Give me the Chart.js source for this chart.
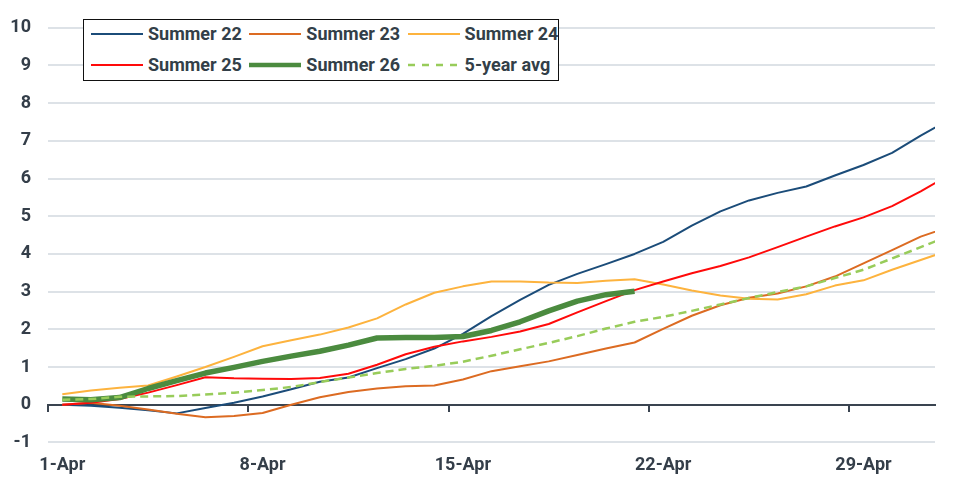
<!DOCTYPE html>
<html><head><meta charset="utf-8">
<script src="https://cdn.jsdelivr.net/npm/chart.js@4.4.1/dist/chart.umd.min.js"></script>
<style>
html,body{margin:0;padding:0;background:#fff;}
#wrap{position:relative;width:975px;height:483px;}
#legend{position:absolute;left:83px;top:19px;width:476px;height:62px;box-sizing:border-box;border:1.5px solid #111;background:#fff;font-family:Roboto, sans-serif;font-weight:700;font-size:18px;color:#333f48;}
.item{position:absolute;display:flex;align-items:center;height:24px;white-space:nowrap;}
.item svg{margin-right:5px;display:block}
</style></head><body>
<div id="wrap"><canvas id="c" width="975" height="483"></canvas><div id="legend"></div></div>
<script>
const CATEGORIES = ['1-Apr','2-Apr','3-Apr','4-Apr','5-Apr','6-Apr','7-Apr','8-Apr','9-Apr','10-Apr',
  '11-Apr','12-Apr','13-Apr','14-Apr','15-Apr','16-Apr','17-Apr','18-Apr','19-Apr','20-Apr',
  '21-Apr','22-Apr','23-Apr','24-Apr','25-Apr','26-Apr','27-Apr','28-Apr','29-Apr','30-Apr','1-May','2-May'];
const Y_TICKS = [-1,0,1,2,3,4,5,6,7,8,9,10];

const SUMMER_22 = [0,-0.03,-0.08,-0.15,-0.23,-0.09,0.05,0.22,0.41,0.61,0.72,0.97,1.21,1.49,1.88,2.35,2.78,3.18,3.47,3.73,4.0,4.32,4.75,5.13,5.42,5.62,5.79,6.08,6.36,6.68,7.14,7.56];
const SUMMER_23 = [0,0.05,-0.03,-0.13,-0.24,-0.33,-0.3,-0.22,0.0,0.2,0.34,0.43,0.49,0.51,0.67,0.89,1.02,1.15,1.32,1.49,1.65,2.01,2.36,2.64,2.84,2.95,3.14,3.40,3.75,4.10,4.46,4.72];
const SUMMER_24 = [0.28,0.38,0.45,0.51,0.75,1.0,1.27,1.55,1.71,1.86,2.05,2.29,2.66,2.97,3.14,3.27,3.27,3.24,3.23,3.29,3.33,3.19,3.03,2.9,2.81,2.79,2.93,3.16,3.3,3.58,3.84,4.1];
const SUMMER_25 = [0,0.05,0.15,0.32,0.52,0.73,0.7,0.69,0.68,0.71,0.82,1.06,1.34,1.54,1.68,1.8,1.94,2.14,2.45,2.75,3.04,3.27,3.49,3.68,3.91,4.18,4.46,4.73,4.97,5.27,5.66,6.1];
const SUMMER_26 = [0.15,0.13,0.19,0.43,0.64,0.84,0.99,1.15,1.29,1.42,1.58,1.77,1.78,1.78,1.81,1.97,2.2,2.49,2.75,2.92,3.01];
const AVG_5Y = [0.13,0.15,0.21,0.22,0.23,0.27,0.32,0.39,0.47,0.6,0.72,0.84,0.95,1.03,1.14,1.3,1.47,1.64,1.82,2.02,2.2,2.33,2.49,2.66,2.83,2.99,3.14,3.36,3.58,3.88,4.18,4.48];

const TEXT = '#343e49';
const FONT = {family: 'Roboto, sans-serif', size: 18, weight: '700'};
const LAST_SHOWN = 30; // axis ends half a day after 1-May

const series = [
  {label: 'Summer 22', data: SUMMER_22, color: '#1b4c79', width: 2, dash: [], order: 5},
  {label: 'Summer 23', data: SUMMER_23, color: '#dc6b22', width: 2, dash: [], order: 4},
  {label: 'Summer 24', data: SUMMER_24, color: '#fdb33e', width: 2, dash: [], order: 3},
  {label: 'Summer 25', data: SUMMER_25, color: '#ff0a0a', width: 2, dash: [], order: 2},
  {label: 'Summer 26', data: SUMMER_26, color: '#4b8b3f', width: 5.5, dash: [], order: 1},
  {label: '5-year avg', data: AVG_5Y, color: '#98cc5a', width: 2.5, dash: [8, 5], order: 0}
];

const chart = new Chart(document.getElementById('c'), {
  type: 'line',
  data: {
    labels: CATEGORIES,
    datasets: series.map(s => ({
      label: s.label, data: s.data, borderColor: s.color, backgroundColor: s.color,
      borderWidth: s.width, borderDash: s.dash, order: s.order,
      pointRadius: 0, pointHoverRadius: 0, tension: 0, fill: false,
      borderCapStyle: 'butt', borderJoinStyle: 'round',
      clip: {left: 0, right: 0, top: false, bottom: false}
    }))
  },
  options: {
    responsive: false,
    animation: false,
    events: [],
    layout: {padding: {top: 20, right: 40, bottom: 0, left: 0}},
    plugins: {legend: {display: false}, tooltip: {enabled: false}},
    scales: {
      x: {
        type: 'category', position: {y: 0}, offset: true,
        afterDataLimits: s => { s.min = 0; s.max = LAST_SHOWN; },
        grid: {
          offset: true, display: true, drawOnChartArea: false, drawTicks: true, tickLength: 6, lineWidth: 2,
          color: ctx => (ctx.index !== undefined && ctx.index % 7 === 0) ? '#3a4450' : 'rgba(0,0,0,0)',
          tickColor: ctx => (ctx.index !== undefined && ctx.index % 7 === 0) ? '#3a4450' : 'rgba(0,0,0,0)'
        },
        border: {display: true, color: '#3a4450', width: 2},
        ticks: {display: false}
      },
      xb: {
        type: 'category', position: 'bottom', labels: CATEGORIES, offset: true, min: 0, max: LAST_SHOWN,
        grid: {display: false, drawTicks: false, offset: true},
        border: {display: false},
        ticks: {
          autoSkip: false, maxRotation: 0, minRotation: 0, padding: 12, color: TEXT, font: FONT,
          callback: function (v, i) { return i % 7 === 0 ? CATEGORIES[v] : ''; }
        },
        afterFit: s => { s.height = 40.6; }
      },
      y: {
        min: -1, max: 10,
        afterBuildTicks: s => { s.ticks = Y_TICKS.map(v => ({value: v})); },
        grid: {color: '#dde2e7', lineWidth: 2, drawTicks: false},
        border: {display: false},
        ticks: {padding: 17, color: TEXT, font: FONT},
        afterFit: s => { s.width = 48; }
      }
    }
  }
});

// HTML legend built from the chart's datasets
const legend = document.getElementById('legend');
chart.data.datasets.forEach((ds, i) => {
  const col = i % 3, row = Math.floor(i / 3);
  const item = document.createElement('div');
  item.className = 'item';
  item.style.left = (7 + col * 158.3) + 'px';
  item.style.top = (1.5 + row * 31) + 'px';
  const w = ds.borderWidth > 3 ? 4.5 : ds.borderWidth;
  const dash = (ds.borderDash && ds.borderDash.length) ? 'stroke-dasharray="7,7"' : '';
  item.innerHTML = '<svg width="52" height="10"><line x1="0" y1="5" x2="52" y2="5" stroke="' + ds.borderColor +
    '" stroke-width="' + w + '" ' + dash + ' stroke-linecap="' + (ds.borderWidth > 3 ? 'round' : 'butt') + '"/></svg>' +
    '<span>' + ds.label + '</span>';
  legend.appendChild(item);
});
</script>
</body></html>
